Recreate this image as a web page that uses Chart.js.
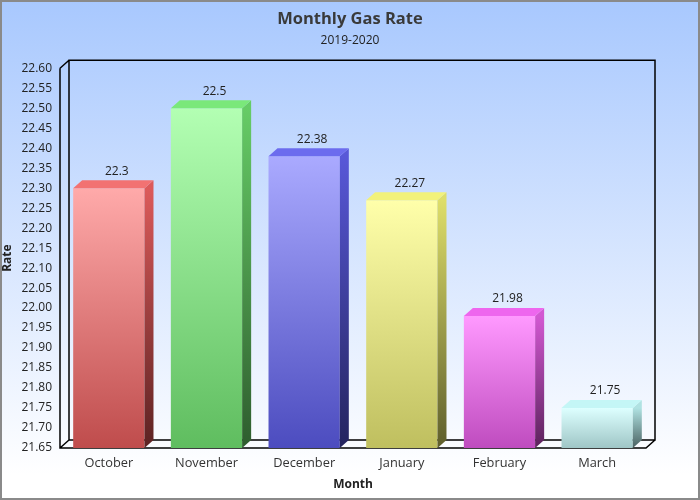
<!DOCTYPE html>
<html lang="en">
<head>
<meta charset="UTF-8">
<title>Monthly Gas Rate</title>
<script src="https://cdn.jsdelivr.net/npm/chart.js"></script>
<style>
  html, body { margin: 0; padding: 0; background: #fff; }
</style>
</head>
<body>
<canvas id="gasChart" width="700" height="500"></canvas>
<script>
// data
const months = ['October', 'November', 'December', 'January', 'February', 'March'];
const rates = [22.3, 22.5, 22.38, 22.27, 21.98, 21.75];
const yMin = 21.65;
const yMax = 22.60;
const yStep = 0.05;

// bar colours: front face top/bottom, side face top/bottom, top face
const frontLight = ['#ffaaaa', '#b3ffb3', '#aaaaff', '#ffffaa', '#ff99ff', '#ddffff'];
const frontDark  = ['#bf4c4c', '#5fbd5f', '#4c4cbf', '#bfbf5f', '#bf4cbf', '#9fc6c6'];
const sideLight  = ['#dc5a5a', '#66cc66', '#5858d8', '#dede6a', '#d258d2', '#b0e2e2'];
const sideDark   = ['#5c2222', '#2e5c2e', '#24245e', '#5e5e2c', '#5c225c', '#4a6262'];
const topFace    = ['#f27272', '#7ae87a', '#6c6cee', '#f2f27a', '#ee66ee', '#c4f6f6'];

const DX = 9, DY = 8; // depth of the 3d effect

const FONT = "'Open Sans', 'DejaVu Sans', sans-serif";

function frontGradient(ctx) {
    const chart = ctx.chart;
    const i = ctx.dataIndex;
    if (!chart.chartArea || i === undefined) return frontDark[i || 0];
    const yTop = chart.scales.y.getPixelForValue(rates[i]);
    const yBot = chart.scales.y.getPixelForValue(yMin);
    const g = chart.ctx.createLinearGradient(0, yTop, 0, yBot);
    g.addColorStop(0, frontLight[i]);
    g.addColorStop(1, frontDark[i]);
    return g;
}

const backgroundPlugin = {
    id: 'background',
    beforeDraw(chart) {
        const { ctx, width, height } = chart;
        ctx.save();
        const g = ctx.createLinearGradient(0, 0, 0, height);
        g.addColorStop(0, '#a8c8fe');
        g.addColorStop(0.95, '#ffffff');
        ctx.fillStyle = g;
        ctx.fillRect(0, 0, width, height);
        ctx.strokeStyle = '#8a8a8a';
        ctx.lineWidth = 2;
        ctx.strokeRect(1, 1, width - 2, height - 2);
        ctx.restore();
    }
};

// back walls / floor outline of the 3d box
const framePlugin = {
    id: 'frame3d',
    beforeDatasetsDraw(chart) {
        const { ctx, chartArea: a } = chart;
        ctx.save();
        ctx.strokeStyle = '#000';
        ctx.lineWidth = 1.5;
        ctx.beginPath();
        // back rectangle
        ctx.moveTo(a.left + DX, a.bottom - DY);
        ctx.lineTo(a.left + DX, a.top - DY);
        ctx.lineTo(a.right + DX, a.top - DY);
        ctx.lineTo(a.right + DX, a.bottom - DY);
        ctx.lineTo(a.left + DX, a.bottom - DY);
        // front left edge and floor front edge
        ctx.moveTo(a.left, a.top);
        ctx.lineTo(a.left, a.bottom);
        ctx.lineTo(a.right, a.bottom);
        ctx.lineTo(a.right + DX, a.bottom - DY);
        // diagonals on the left
        ctx.moveTo(a.left, a.top);
        ctx.lineTo(a.left + DX, a.top - DY);
        ctx.moveTo(a.left, a.bottom);
        ctx.lineTo(a.left + DX, a.bottom - DY);
        ctx.stroke();
        ctx.restore();
    }
};

// side and top faces of every bar, plus value labels
const barsPlugin = {
    id: 'bars3d',
    afterDatasetsDraw(chart) {
        const { ctx } = chart;
        const meta = chart.getDatasetMeta(0);
        const floor = chart.scales.y.getPixelForValue(yMin);
        ctx.save();
        meta.data.forEach((bar, i) => {
            const { x, y, width } = bar.getProps(['x', 'y', 'width'], true);
            const base = floor;
            const l = x - width / 2;
            const r = x + width / 2;

            const sg = ctx.createLinearGradient(0, y, 0, base);
            sg.addColorStop(0, sideLight[i]);
            sg.addColorStop(1, sideDark[i]);
            ctx.fillStyle = sg;
            ctx.beginPath();
            ctx.moveTo(r, y);
            ctx.lineTo(r + DX, y - DY);
            ctx.lineTo(r + DX, base - DY);
            ctx.lineTo(r, base);
            ctx.closePath();
            ctx.fill();

            ctx.fillStyle = topFace[i];
            ctx.beginPath();
            ctx.moveTo(l, y);
            ctx.lineTo(l + DX, y - DY);
            ctx.lineTo(r + DX, y - DY);
            ctx.lineTo(r, y);
            ctx.closePath();
            ctx.fill();

            ctx.fillStyle = '#222';
            ctx.font = '12px ' + FONT;
            ctx.textAlign = 'center';
            ctx.textBaseline = 'middle';
            ctx.fillText(String(rates[i]), x + 8, y - DY - 9);
        });
        ctx.restore();
    }
};

new Chart(document.getElementById('gasChart'), {
    type: 'bar',
    data: {
        labels: months,
        datasets: [{
            label: 'Rate',
            data: rates,
            backgroundColor: frontGradient,
            borderWidth: 0,
            barPercentage: 0.73,
            categoryPercentage: 1
        }]
    },
    options: {
        responsive: false,
        animation: false,
        devicePixelRatio: 1,
        layout: { padding: 0 },
        plugins: {
            legend: { display: false },
            tooltip: { enabled: false },
            title: {
                display: true,
                text: 'Monthly Gas Rate',
                color: '#3a3a3a',
                font: { family: FONT, size: 16.5, weight: 'bold' },
                padding: { top: 9, bottom: 3 }
            },
            subtitle: {
                display: true,
                text: '2019-2020',
                color: '#222',
                font: { family: FONT, size: 12 },
                padding: { top: 2, bottom: 20 }
            }
        },
        scales: {
            x: {
                grid: { display: false, drawTicks: false },
                border: { display: false },
                ticks: { color: '#333', padding: 8, font: { family: FONT, size: 12.8 } },
                title: {
                    display: true,
                    text: 'Month',
                    color: '#222',
                    font: { family: FONT, size: 12, weight: 'bold' },
                    padding: { top: 0, bottom: 8 }
                },
                afterFit(scale) { scale.height = 52; }
            },
            y: {
                min: yMin,
                max: yMax,
                grid: { display: false, drawTicks: false },
                border: { display: false },
                ticks: {
                    stepSize: yStep,
                    autoSkip: false,
                    color: '#222',
                    padding: 8,
                    font: { family: FONT, size: 12 },
                    callback: v => Number(v).toFixed(2)
                },
                title: {
                    display: true,
                    text: 'Rate',
                    color: '#222',
                    font: { family: FONT, size: 12, weight: 'bold' },
                    padding: { top: 0, bottom: 0 }
                },
                afterFit(scale) { scale.width = 60; }
            },
            // empty right axis, only reserves room for the 3d depth
            yRight: {
                type: 'linear',
                position: 'right',
                min: yMin,
                max: yMax,
                grid: { display: false, drawTicks: false },
                border: { display: false },
                ticks: { display: false },
                afterFit(scale) { scale.width = 54; }
            }
        }
    },
    plugins: [backgroundPlugin, framePlugin, barsPlugin]
});
</script>
</body>
</html>
